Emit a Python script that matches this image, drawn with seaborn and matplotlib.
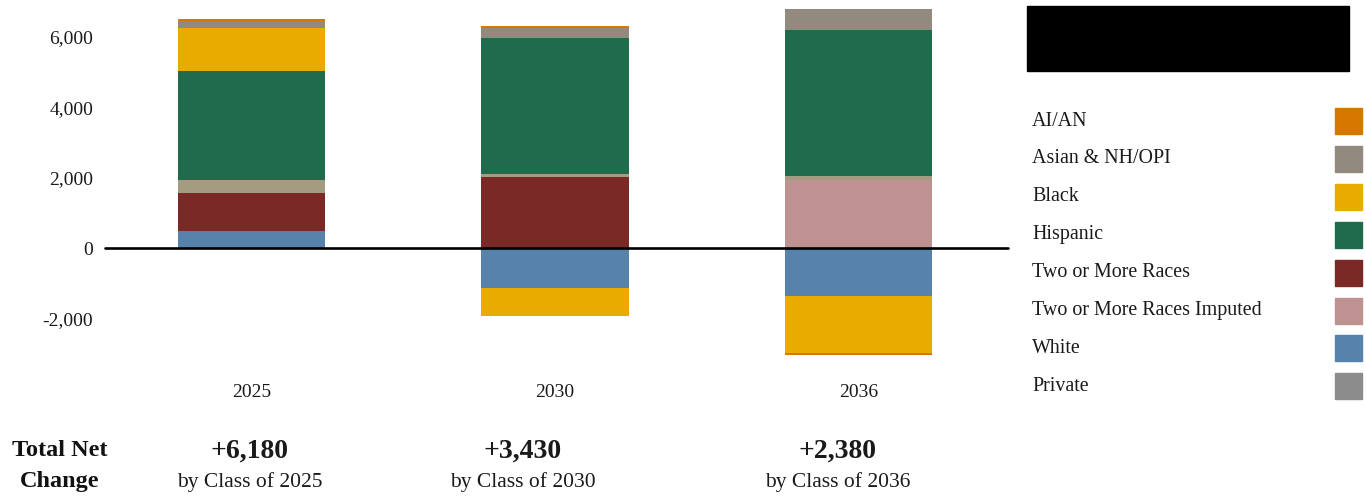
import numpy as np
import pandas as pd
import seaborn as sns
import matplotlib.pyplot as plt
from matplotlib.patches import Rectangle

# classes (x categories)
years = ["2025", "2030", "2036"]

# change per group
white = [490, -1115, -1355]
two_more = [1080, 2025, 0]
two_more_imp = [0, 0, 1930]
private = [370, 95, 135]
hispanic = [3100, 3845, 4140]
black = [1220, -795, -1610]
asian = [200, 275, 570]
aian = [40, 65, -50]

totals = ["+6,180", "+3,430", "+2,380"]

# stacking order, bottom-up
stack = {
    "White": white,
    "Two or More Races": two_more,
    "Two or More Races Imputed": two_more_imp,
    "Private": private,
    "Hispanic": hispanic,
    "Black": black,
    "Asian & NH/OPI": asian,
    "AI/AN": aian,
}

colors = {
    "AI/AN": "#d67800",
    "Asian & NH/OPI": "#928a7f",
    "Black": "#e9ab00",
    "Hispanic": "#1f6b4b",
    "Two or More Races": "#7a2927",
    "Two or More Races Imputed": "#bd9291",
    "White": "#5682ab",
    "Private": "#8c8c8c",
}
bar_colors = dict(colors, Private="#a39c81")
legend_order = ["AI/AN", "Asian & NH/OPI", "Black", "Hispanic", "Two or More Races",
                "Two or More Races Imputed", "White", "Private"]

# long table with running sums per sign
rows = []
for i, yr in enumerate(years):
    pos, neg = 0, 0
    for g, vals in stack.items():
        v = vals[i]
        if v > 0:
            pos += v
            rows.append((yr, g, v, pos))
        elif v < 0:
            neg += v
            rows.append((yr, g, v, neg))
df = pd.DataFrame(rows, columns=["year", "group", "value", "cum"])

sns.set_theme(style="white")
plt.rcParams["font.family"] = ["Liberation Serif", "DejaVu Serif"]

W, H = 1366, 498
fig = plt.figure(figsize=(W / 100, H / 100), dpi=100)
ax = fig.add_axes([100 / W, 1 - 360 / H, 910 / W, 355 / H])

# draw outermost segments first so inner ones sit on top
for sign in (1, -1):
    for g in reversed(list(stack.keys())):
        sub = df[(df.group == g) & (np.sign(df.value) == sign)]
        if sub.empty:
            continue
        sns.barplot(data=sub, x="year", y="cum", order=years, color=bar_colors[g],
                    saturation=1, width=0.485, errorbar=None, linewidth=0, ax=ax)

ax.axhline(0, xmin=0.005, xmax=0.998, color="black", lw=1.9, zorder=5)
ax.set_xlim(-0.5, 2.5)
ax.set_ylim(-3160, 6900)
yt = [-2000, 0, 2000, 4000, 6000]
ax.set_yticks(yt)
ax.set_yticklabels([f"{v:,}" for v in yt])
ax.tick_params(axis="y", length=0, pad=5, labelsize=14, colors="#1a1a1a")
ax.tick_params(axis="x", length=0, pad=17, labelsize=14, colors="#1a1a1a")
ax.set_xlabel("")
ax.set_ylabel("")
for s in ax.spines.values():
    s.set_visible(False)

# bottom summary text
fig.text(60 / W, 1 - 450 / H, "Total Net", ha="center", va="center",
         fontsize=17.5, fontweight="bold", color="#111111")
fig.text(60 / W, 1 - 481 / H, "Change", ha="center", va="center",
         fontsize=17.5, fontweight="bold", color="#111111")
for cx, t, yr in zip([250, 523, 838], totals, years):
    fig.text(cx / W, 1 - 451 / H, t, ha="center", va="center",
             fontsize=20, fontweight="bold", color="#1a1a1a")
    fig.text(cx / W, 1 - 482 / H, f"by Class of {yr}", ha="center", va="center",
             fontsize=15.5, color="#1a1a1a")

# redacted box
fig.add_artist(Rectangle((1027 / W, 1 - 71 / H), 322 / W, 65 / H,
                         transform=fig.transFigure, color="black"))

# legend: labels on the left, swatches on the right
for k, g in enumerate(legend_order):
    cy = 121 + k * 37.9
    fig.text(1032 / W, 1 - cy / H, g, ha="left", va="center",
             fontsize=14.4, color="#1a1a1a")
    fig.add_artist(Rectangle((1335 / W, 1 - (cy + 13) / H), 27 / W, 26 / H,
                             transform=fig.transFigure, color=colors[g]))

fig.savefig("out.png", dpi=100)
